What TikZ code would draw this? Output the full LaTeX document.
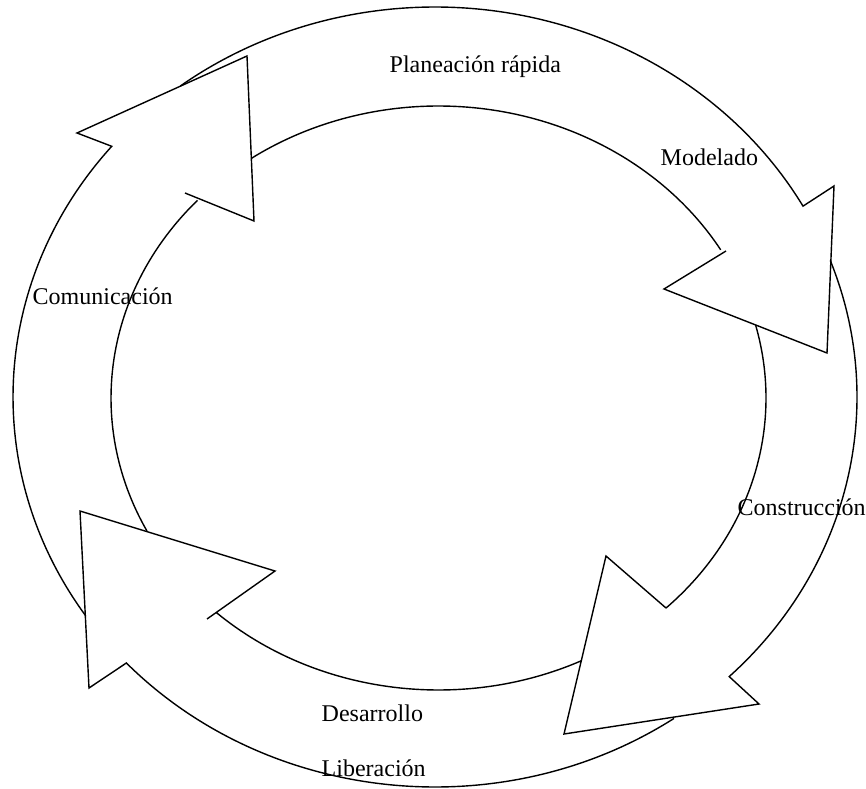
\documentclass[tikz,border=0pt]{standalone}
\usepackage{fontspec}
\setmainfont{Liberation Serif}
\usepackage{tikz}

\begin{document}
\begin{tikzpicture}[x=0.5pt, y=0.5pt, line width=0.7pt,
        phase/.style={anchor=base west, inner sep=0pt, font=\fontsize{12}{14}\selectfont}]
        \useasboundingbox (0, 0) rectangle (866, 788);
        \coordinate (O) at (435, 391); % outer ring centre
        \coordinate (I) at (438.5, 390); % inner ring centre

        % left arrow, head at top left
        \draw (O) ++(214.1:422 and 390) arc (214.1:140:422 and 390) -- (77, 655) -- (247, 732) -- (254, 567) -- (185, 595)
            (I) ++(137.4:327.5 and 292) arc (137.4:207.1:327.5 and 292);

        % top arrow, head at right
        \draw (O) ++(127.1:422 and 390) arc (127.1:29.3:422 and 390) -- (834, 602) -- (827, 435) -- (664, 499) -- (726, 537)
            (I) ++(30.5:327.5 and 292) arc (30.5:124.8:327.5 and 292);

        % right arrow, head at bottom right
        \draw (O) ++(20.5:422 and 390) arc (20.5:-45.8:422 and 390) -- (759, 84) -- (564, 54) -- (606, 232) -- (666, 180)
            (I) ++(-46:327.5 and 292) arc (-46:14.5:327.5 and 292);

        % bottom arrow, head at bottom left
        \draw (O) ++(-55.5:422 and 390) arc (-55.5:-137:422 and 390) -- (89, 100) -- (80, 277) -- (275, 217) -- (207, 169)
            (I) ++(-132.7:327.5 and 292) arc (-132.7:-64.1:327.5 and 292);

        \node (plan) [phase] at (389, 715) {Planeación rápida};
        \node (model) [phase] at (660, 622) {Modelado};
        \node (comun) [phase] at (32, 483) {Comunicación};
        \node (constr) [phase] at (737, 273) {Construcción};
        \node (desarr) [phase] at (321, 67) {Desarrollo};
        \node (liber) [phase] at (321, 12) {Liberación};
    \end{tikzpicture}
\end{document}
